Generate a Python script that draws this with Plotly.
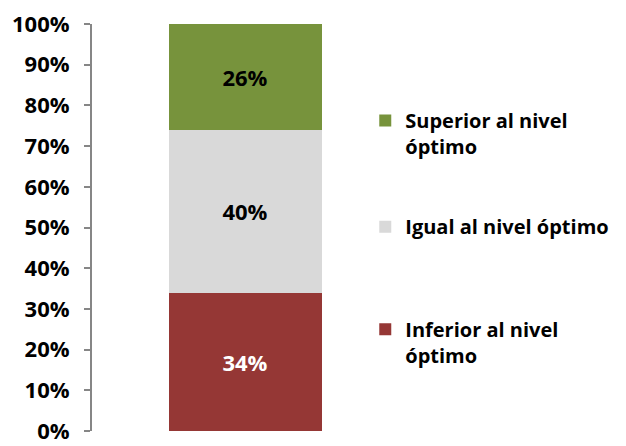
import plotly.graph_objects as go

# data
category = [""]
series_names = ["Inferior al nivel<br>óptimo", "Igual al nivel óptimo", "Superior al nivel<br>óptimo"]
series_values = [34, 40, 26]
series_colors = ["#953735", "#D9D9D9", "#77933C"]
label_colors = ["white", "black", "black"]
y_ticks = [0, 10, 20, 30, 40, 50, 60, 70, 80, 90, 100]
y_ticktext = [f"{v}%" for v in y_ticks]

FONT = "Open Sans"

fig = go.Figure()
legends = ["legend3", "legend2", "legend"]
for name, val, col, lcol, lg in zip(series_names, series_values, series_colors, label_colors, legends):
    fig.add_trace(
        go.Bar(
            x=category,
            y=[val],
            name=name,
            marker=dict(color=col, line=dict(width=0)),
            text=[f"{val}%"],
            textposition="inside",
            insidetextanchor="middle",
            textfont=dict(family=FONT, size=22, color=lcol, weight="bold"),
            legend=lg,
        )
    )

leg_common = dict(
    xanchor="left",
    yanchor="top",
    valign="top",
    font=dict(family=FONT, size=20, color="black", weight="bold"),
    bgcolor="rgba(0,0,0,0)",
)

fig.update_layout(
    barmode="stack",
    bargap=0.5,
    width=618,
    height=438,
    margin=dict(l=84, r=228, t=16, b=15, autoexpand=False),
    paper_bgcolor="white",
    plot_bgcolor="white",
    showlegend=True,
    legend=dict(x=0.893, y=0.811, **leg_common),
    legend2=dict(x=0.893, y=0.550, **leg_common),
    legend3=dict(x=0.893, y=0.298, **leg_common),
    xaxis=dict(showticklabels=False, showline=False, ticks="", showgrid=False, zeroline=False),
    yaxis=dict(
        range=[0, 100],
        tickvals=y_ticks,
        ticktext=y_ticktext,
        showgrid=False,
        zeroline=False,
        showline=True,
        linecolor="#868686",
        linewidth=2,
        ticks="outside",
        ticklen=6,
        tickcolor="#868686",
        tickwidth=2,
        ticklabelstandoff=10,
        ticklabeloverflow="allow",
        automargin=False,
        tickfont=dict(family=FONT, size=22, color="black", weight="bold"),
    ),
)

fig.write_html("out.html")
